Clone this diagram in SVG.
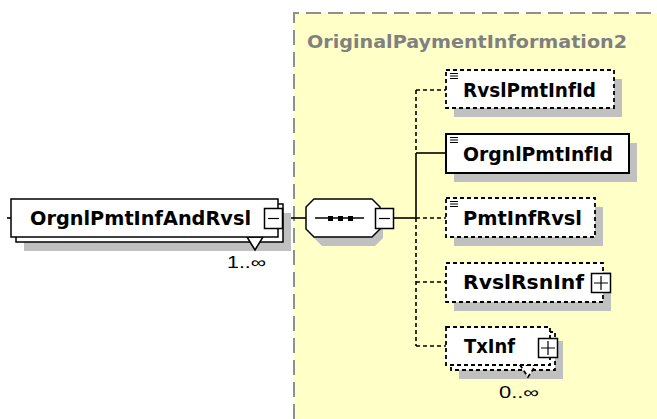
<svg xmlns="http://www.w3.org/2000/svg" width="657" height="419" viewBox="0 0 657 419">
<style>
.bg{fill:#ffffc8}
.frame{fill:none;stroke:#909090;stroke-width:2;stroke-dasharray:15 7}
.title{font-family:"DejaVu Sans","Liberation Sans",sans-serif;font-weight:bold;font-size:18px;fill:#808080}
.box{fill:#fff;stroke:#000;stroke-width:1.5}
.box2{fill:#fff;stroke:#000;stroke-width:2}
.dbox{fill:#fff;stroke:#000;stroke-width:1.8;stroke-dasharray:4 3}
.shadow{fill:#c0c0c0}
.lbl{font-family:"DejaVu Sans","Liberation Sans",sans-serif;font-weight:bold;font-size:19px;fill:#000}
.mult{font-family:"Liberation Sans","DejaVu Sans",sans-serif;font-size:16px;fill:#000}
.conn{stroke:#000;stroke-width:1.6;fill:none}
.dconn{stroke:#000;stroke-width:1.6;fill:none;stroke-dasharray:4 3}
.icon{stroke:#000;stroke-width:1.2;fill:none}
</style>

<g id="type-area">
<rect class="bg" x="294" y="13" width="370" height="410"/>
<path class="frame" d="M294,419 V13 H657"/>
<text class="title" x="307" y="48" textLength="320" lengthAdjust="spacingAndGlyphs">OriginalPaymentInformation2</text>
</g>

<g id="connectors">
<line class="conn" x1="7" y1="218" x2="11" y2="218"/>
<line class="conn" x1="283" y1="218" x2="306" y2="218"/>
<line class="conn" x1="394" y1="218" x2="416" y2="218"/>
<line class="dconn" x1="416" y1="90" x2="416" y2="153"/>
<line class="conn" x1="416" y1="153" x2="416" y2="218"/>
<line class="dconn" x1="416" y1="218" x2="416" y2="346"/>
<line class="dconn" x1="416" y1="90" x2="446" y2="90"/>
<line class="conn" x1="416" y1="153" x2="446" y2="153"/>
<line class="dconn" x1="416" y1="218" x2="446" y2="218"/>
<line class="dconn" x1="416" y1="282" x2="446" y2="282"/>
<line class="dconn" x1="416" y1="346" x2="446" y2="346"/>
</g>

<g id="OrgnlPmtInfAndRvsl">
<rect class="shadow" x="24" y="213" width="267" height="38"/>
<rect class="box" x="16" y="204" width="267" height="38"/>
<polygon class="box" points="247,237 255,250 263,237" stroke-width="1"/>
<rect class="box" x="11" y="199" width="267" height="38"/>
<text class="lbl" x="30" y="225" textLength="221" lengthAdjust="spacingAndGlyphs">OrgnlPmtInfAndRvsl</text>
<rect class="box" x="264.5" y="208.5" width="18" height="20"/>
<line class="icon" x1="268" y1="218.5" x2="279" y2="218.5" stroke-width="1.5"/>
<text class="mult" x="227" y="268" textLength="39" lengthAdjust="spacingAndGlyphs">1..∞</text>
</g>

<g id="sequence">
<polygon class="shadow" points="322,208 375,208 383,216 383,238 375,246 322,246 314,238 314,216"/>
<polygon class="box" points="314,199 372,199 380,207 380,229 372,237 314,237 306,229 306,207"/>
<line class="conn" x1="315" y1="218" x2="364" y2="218"/>
<rect x="328" y="216" width="5" height="5" fill="#000"/>
<rect x="338" y="216" width="5" height="5" fill="#000"/>
<rect x="348" y="216" width="5" height="5" fill="#000"/>
<rect class="box" x="375.5" y="208.5" width="18" height="20"/>
<line class="icon" x1="379" y1="218.5" x2="390" y2="218.5" stroke-width="1.5"/>
</g>

<g id="RvslPmtInfId">
<rect class="shadow" x="454" y="79" width="168" height="38"/>
<rect class="dbox" x="446" y="70" width="168" height="38"/>
<path class="icon" d="M450,73.5 H458 M450,76 H458 M450,78.5 H458"/>
<text class="lbl" x="463" y="97" textLength="133" lengthAdjust="spacingAndGlyphs">RvslPmtInfId</text>
</g>

<g id="OrgnlPmtInfId">
<rect class="shadow" x="454" y="143" width="183" height="39"/>
<rect class="box2" x="446" y="134" width="183" height="39"/>
<path class="icon" d="M450,137.5 H458 M450,140 H458 M450,142.5 H458"/>
<text class="lbl" x="463" y="161" textLength="150" lengthAdjust="spacingAndGlyphs">OrgnlPmtInfId</text>
</g>

<g id="PmtInfRvsl">
<rect class="shadow" x="454" y="207" width="149" height="39"/>
<rect class="dbox" x="446" y="198" width="149" height="39"/>
<path class="icon" d="M450,201.5 H458 M450,204 H458 M450,206.5 H458"/>
<text class="lbl" x="463" y="225" textLength="119" lengthAdjust="spacingAndGlyphs">PmtInfRvsl</text>
</g>

<g id="RvslRsnInf">
<rect class="shadow" x="454" y="272" width="157" height="39"/>
<rect class="dbox" x="446" y="263" width="157" height="39"/>
<text class="lbl" x="463" y="289" textLength="121" lengthAdjust="spacingAndGlyphs">RvslRsnInf</text>
<rect class="box" x="591.5" y="273.5" width="19" height="19"/>
<path class="icon" d="M594,283 H608 M601,276 V290" stroke-width="1.5"/>
</g>

<g id="TxInf">
<rect class="shadow" x="459" y="341" width="104" height="38"/>
<rect class="dbox" x="451" y="332" width="104" height="38"/>
<polygon class="dbox" points="520,365 528,377 536,365" stroke-width="1"/>
<rect class="dbox" x="446" y="327" width="104" height="38"/>
<text class="lbl" x="464" y="353" textLength="51" lengthAdjust="spacingAndGlyphs">TxInf</text>
<rect class="box" x="538.5" y="338.5" width="19" height="19"/>
<path class="icon" d="M541,348 H555 M548,341 V355" stroke-width="1.5"/>
<text class="mult" x="499" y="398" textLength="40" lengthAdjust="spacingAndGlyphs">0..∞</text>
</g>
</svg>
